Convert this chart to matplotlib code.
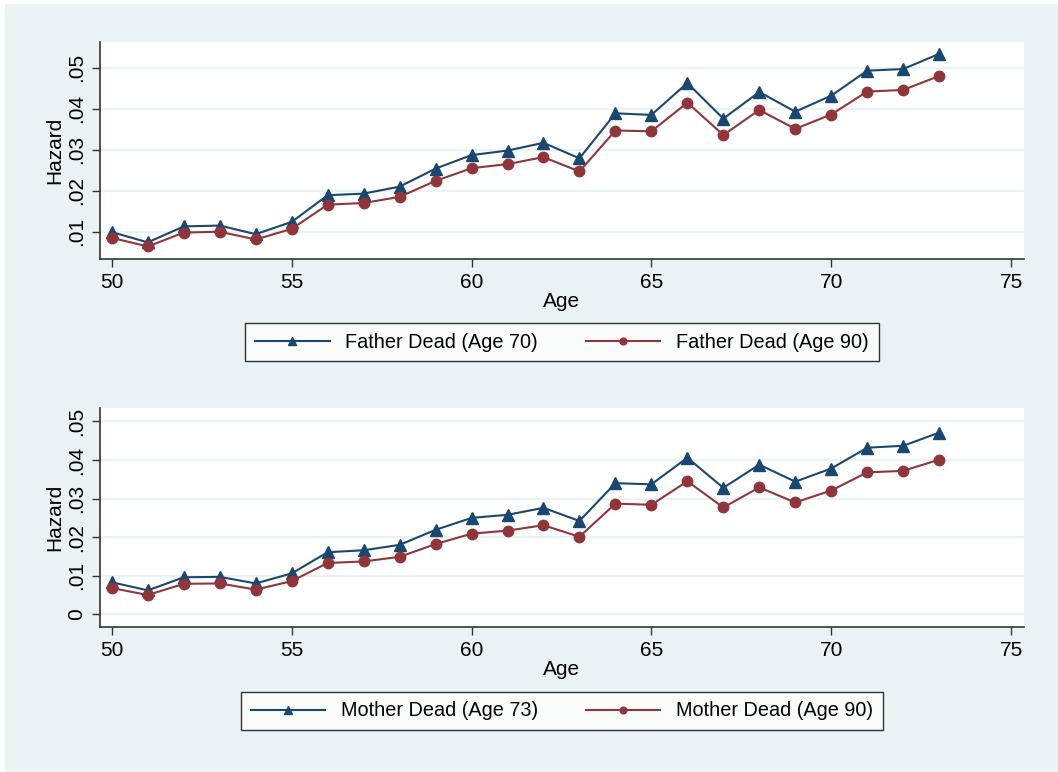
import matplotlib.pyplot as plt
from matplotlib.patches import Rectangle

age = list(range(50, 74))

father_70 = [0.0099, 0.0074, 0.0113, 0.0115, 0.0094, 0.0124, 0.0189, 0.0193, 0.0210, 0.0254,
             0.0287, 0.0298, 0.0317, 0.0279, 0.0389, 0.0385, 0.0463, 0.0376, 0.0441, 0.0393,
             0.0432, 0.0493, 0.0497, 0.0534]
father_90 = [0.0085, 0.0064, 0.0098, 0.0100, 0.0081, 0.0107, 0.0166, 0.0170, 0.0185, 0.0224,
             0.0255, 0.0265, 0.0282, 0.0247, 0.0347, 0.0345, 0.0415, 0.0336, 0.0397, 0.0351,
             0.0386, 0.0442, 0.0446, 0.0480]
mother_73 = [0.0083, 0.0062, 0.0096, 0.0097, 0.0080, 0.0106, 0.0161, 0.0166, 0.0180, 0.0219,
             0.0250, 0.0258, 0.0276, 0.0242, 0.0340, 0.0337, 0.0406, 0.0328, 0.0388, 0.0344,
             0.0378, 0.0432, 0.0437, 0.0471]
mother_90 = [0.0068, 0.0050, 0.0079, 0.0080, 0.0064, 0.0086, 0.0133, 0.0137, 0.0149, 0.0182,
             0.0209, 0.0217, 0.0231, 0.0201, 0.0287, 0.0284, 0.0345, 0.0277, 0.0329, 0.0290,
             0.0321, 0.0368, 0.0372, 0.0401]

x_ticks = [50, 55, 60, 65, 70, 75]
top_yticks = [0.01, 0.02, 0.03, 0.04, 0.05]
top_ylabels = [".01", ".02", ".03", ".04", ".05"]
bot_yticks = [0, 0.01, 0.02, 0.03, 0.04, 0.05]
bot_ylabels = ["0", ".01", ".02", ".03", ".04", ".05"]

navy = "#1A476F"
maroon = "#90353B"
bg = "#EAF2F3"
fs = 15

plt.rcParams["font.family"] = ["Liberation Sans", "DejaVu Sans"]

W, H = 1058, 772
fig = plt.figure(figsize=(W / 100, H / 100), dpi=100)
fig.patch.set_facecolor("white")
fig.add_artist(Rectangle((5 / W, 0), 1 - 5 / W, 1 - 4 / H, transform=fig.transFigure,
                         facecolor=bg, edgecolor="none", zorder=-10))

ax1 = fig.add_axes([100 / W, 1 - 259 / H, 924 / W, 217 / H])
ax2 = fig.add_axes([100 / W, 1 - 627 / H, 924 / W, 219 / H])


def style(ax, yticks, ylabels, ylim):
    ax.set_facecolor("white")
    ax.set_xlim(49.67, 75.36)
    ax.set_ylim(*ylim)
    ax.set_xticks(x_ticks)
    ax.set_yticks(yticks)
    ax.set_yticklabels(ylabels, rotation=90, va="center")
    ax.tick_params(axis="both", labelsize=fs, color="#333333", length=6, width=1, pad=4)
    ax.grid(axis="y", color=bg, linewidth=1.6)
    ax.set_axisbelow(True)
    for s in ["top", "right"]:
        ax.spines[s].set_visible(False)
    for s in ["left", "bottom"]:
        ax.spines[s].set_color("#333333")
        ax.spines[s].set_linewidth(1.2)
    ax.set_xlabel("Age", fontsize=fs, labelpad=0)
    ax.set_ylabel("Hazard", fontsize=fs, labelpad=2)


ax1.plot(age, father_70, color=navy, marker="^", markersize=8.5, linewidth=1.5,
         label="Father Dead (Age 70)")
ax1.plot(age, father_90, color=maroon, marker="o", markersize=7.5, linewidth=1.5,
         label="Father Dead (Age 90)")
style(ax1, top_yticks, top_ylabels, (0.00334, 0.0563))

ax2.plot(age, mother_73, color=navy, marker="^", markersize=8.5, linewidth=1.5,
         label="Mother Dead (Age 73)")
ax2.plot(age, mother_90, color=maroon, marker="o", markersize=7.5, linewidth=1.5,
         label="Mother Dead (Age 90)")
style(ax2, bot_yticks, bot_ylabels, (-0.0033, 0.0535))

for ax, yc in [(ax1, 342), (ax2, 711)]:
    leg = ax.legend(loc="center", bbox_to_anchor=(562 / W, 1 - yc / H),
                    bbox_transform=fig.transFigure, ncol=2, fontsize=14.3,
                    frameon=True, fancybox=False, edgecolor="black",
                    handlelength=3.75, handletextpad=0.8, columnspacing=2.4,
                    markerscale=0.65, borderpad=0.5)
    leg.get_frame().set_linewidth(1.0)

fig.savefig("out.png", dpi=100)
